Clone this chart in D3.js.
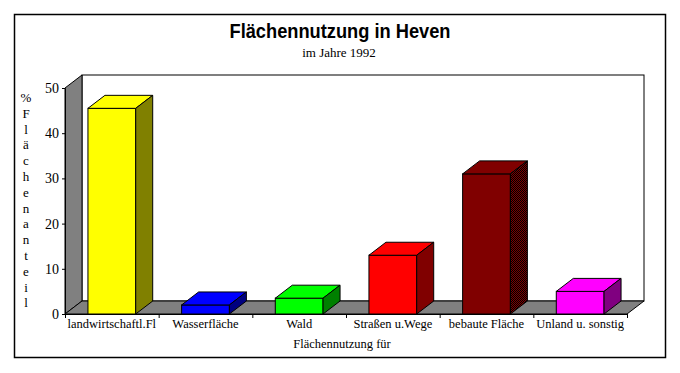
<!DOCTYPE html>
<html>
<head>
<meta charset="utf-8">
<script src="https://cdn.jsdelivr.net/npm/d3@7"></script>
<style>
  body { margin: 0; background: #fff; }
  text { fill: #000; }
</style>
</head>
<body>
<div id="chart"></div>
<script>
// data
const categories = ["landwirtschaftl.Fl", "Wasserfläche", "Wald", "Straßen u.Wege", "bebaute Fläche", "Unland u. sonstig"];
const values = [45.5, 2, 3.5, 13, 31, 5];
const frontColors = ["#ffff00", "#0000ff", "#00ff00", "#ff0000", "#800000", "#ff00ff"];
const sideColors = ["#808000", "#000080", "#008000", "#800000", "url(#dither)", "#800080"];
const yTicks = [0, 10, 20, 30, 40, 50];
const yTitle = "% Flächenanteil";

const width = 680, height = 373;
const plot = { left: 65, right: 627, top: 88, bottom: 314 };
const depth = { dx: 17, dy: -13 };

const svg = d3.select("#chart").append("svg")
    .attr("width", width)
    .attr("height", height);

// dithered dark side of the brown bar
const pat = svg.append("defs").append("pattern")
    .attr("id", "dither")
    .attr("width", 2).attr("height", 2)
    .attr("patternUnits", "userSpaceOnUse");
pat.append("rect").attr("width", 2).attr("height", 2).attr("fill", "#800000");
pat.append("rect").attr("width", 1).attr("height", 1).attr("fill", "#000");
pat.append("rect").attr("x", 1).attr("y", 1).attr("width", 1).attr("height", 1).attr("fill", "#000");

// outer frame
svg.append("rect")
    .attr("x", 14.5).attr("y", 14.5)
    .attr("width", 651).attr("height", 343)
    .attr("fill", "none")
    .attr("stroke", "#000")
    .attr("stroke-width", 1.5);

svg.append("text")
    .attr("x", 340).attr("y", 38)
    .attr("text-anchor", "middle")
    .style("font-family", "Liberation Sans, Arial, sans-serif")
    .style("font-weight", "bold")
    .style("font-size", "20px")
    .attr("textLength", 221)
    .attr("lengthAdjust", "spacingAndGlyphs")
    .text("Flächennutzung in Heven");

svg.append("text")
    .attr("x", 339).attr("y", 57)
    .attr("text-anchor", "middle")
    .style("font-family", "Liberation Serif, Times New Roman, serif")
    .style("font-size", "13px")
    .text("im Jahre 1992");

const x = d3.scaleBand().domain(categories).range([plot.left, plot.right]);
const y = d3.scaleLinear().domain([0, 50]).range([plot.bottom, plot.top]);
const xEdge = d3.scaleLinear().domain([0, categories.length]).range([plot.left, plot.right]);

const pts = a => a.map(p => p.join(",")).join(" ");
const line = { stroke: "#000", "stroke-width": 1 };

const g = svg.append("g");

// back wall
g.append("rect")
    .attr("x", plot.left + depth.dx).attr("y", plot.top + depth.dy)
    .attr("width", plot.right - plot.left).attr("height", plot.bottom - plot.top)
    .attr("fill", "#fff").attr("stroke", "#000");

// left wall
g.append("polygon")
    .attr("points", pts([[plot.left, plot.top], [plot.left + depth.dx, plot.top + depth.dy],
        [plot.left + depth.dx, plot.bottom + depth.dy], [plot.left, plot.bottom]]))
    .attr("fill", "#808080").attr("stroke", "#000");

// floor
g.append("polygon")
    .attr("points", pts([[plot.left, plot.bottom], [plot.left + depth.dx, plot.bottom + depth.dy],
        [plot.right + depth.dx, plot.bottom + depth.dy], [plot.right, plot.bottom]]))
    .attr("fill", "#808080").attr("stroke", "#000");

// bars
const barW = x.bandwidth() * 0.51;
const bars = g.selectAll(".bar")
    .data(values.map((v, i) => ({ cat: categories[i], v, i })))
    .enter().append("g").attr("class", "bar");

bars.each(function (d) {
    const b = d3.select(this);
    const x0 = x(d.cat) + (x.bandwidth() - barW) / 2;
    const x1 = x0 + barW;
    const yt = y(d.v), yb = y(0);
    b.append("rect")
        .attr("x", x0).attr("y", yt)
        .attr("width", barW).attr("height", yb - yt)
        .attr("fill", frontColors[d.i]).attr("stroke", "#000");
    b.append("polygon")
        .attr("points", pts([[x0, yt], [x0 + depth.dx, yt + depth.dy], [x1 + depth.dx, yt + depth.dy], [x1, yt]]))
        .attr("fill", frontColors[d.i]).attr("stroke", "#000");
    b.append("polygon")
        .attr("points", pts([[x1, yt], [x1 + depth.dx, yt + depth.dy], [x1 + depth.dx, yb + depth.dy], [x1, yb]]))
        .attr("fill", sideColors[d.i]).attr("stroke", "#000");
});

// y axis
const yAxis = svg.append("g")
    .attr("transform", `translate(${plot.left},0)`)
    .call(d3.axisLeft(y).tickValues(yTicks).tickSize(3).tickSizeOuter(0).tickPadding(3));
yAxis.selectAll("text")
    .style("font-family", "Liberation Serif, Times New Roman, serif")
    .style("font-size", "14px")
    .attr("fill", "#000");

// x axis: ticks at category edges, labels at centers
svg.append("g")
    .attr("transform", `translate(0,${plot.bottom})`)
    .call(d3.axisBottom(xEdge).ticks(categories.length).tickSize(4).tickSizeOuter(0).tickFormat(""));

const xAxis = svg.append("g")
    .attr("transform", `translate(0,${plot.bottom})`)
    .call(d3.axisBottom(x).tickSize(0).tickPadding(5));
xAxis.select(".domain").remove();
xAxis.selectAll("text")
    .style("font-family", "Liberation Serif, Times New Roman, serif")
    .style("font-size", "12.5px")
    .attr("fill", "#000");

svg.selectAll(".domain, .tick line").attr("stroke", "#000");

// axis titles
svg.append("text")
    .attr("x", 342).attr("y", 348)
    .attr("text-anchor", "middle")
    .style("font-family", "Liberation Serif, Times New Roman, serif")
    .style("font-size", "12.5px")
    .text("Flächennutzung für");

svg.append("g").selectAll("text")
    .data(yTitle.replace(" ", "").split(""))
    .enter().append("text")
    .attr("x", 26)
    .attr("y", (d, i) => 102 + i * 15.8)
    .attr("text-anchor", "middle")
    .style("font-family", "Liberation Serif, Times New Roman, serif")
    .style("font-size", "13px")
    .text(d => d);
</script>
</body>
</html>
